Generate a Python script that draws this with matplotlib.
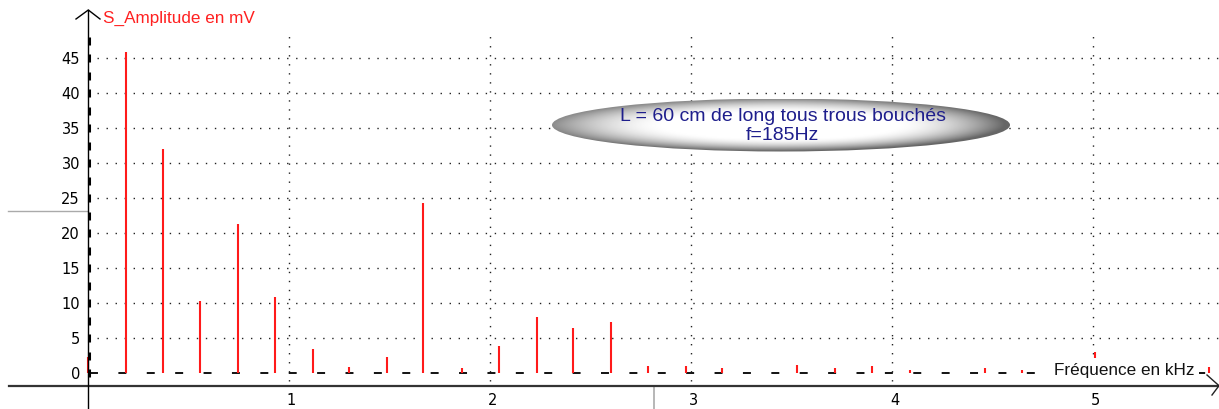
import numpy as np
import matplotlib
matplotlib.use('Agg')
import matplotlib.pyplot as plt
from matplotlib.patches import Ellipse

# Spectre : fréquences (kHz) et amplitudes (mV)
freqs = [0.0, 0.185, 0.372, 0.555, 0.745, 0.926, 1.115, 1.297, 1.487, 1.666,
         1.860, 2.041, 2.231, 2.412, 2.601, 2.782, 2.973, 3.154, 3.525, 3.715,
         3.898, 4.088, 4.462, 4.643, 5.007, 5.576]
amps = [2.4, 45.9, 32.0, 10.3, 21.4, 10.9, 3.5, 0.9, 2.3, 24.4,
        0.7, 3.9, 8.1, 6.5, 7.3, 1.1, 1.1, 0.7, 1.2, 0.7,
        1.0, 0.5, 0.7, 0.5, 3.0, 0.9]

y_ticks = [0, 5, 10, 15, 20, 25, 30, 35, 40, 45]
x_ticks = [1, 2, 3, 4, 5]

y_label = 'S_Amplitude en mV'
x_label = 'Fréquence en kHz'
note_lines = ['L = 60 cm de long tous trous bouchés', 'f=185Hz']

# pixel layout: 201 px per kHz, 7 px per mV, origin at (88.5, 374.3)
W, H = 1219, 410
PXK, PXV = 201.0, 7.0
X0, Y0 = 88.5, 374.3


def dx(px):
    return (px - X0) / PXK


def dy(py):
    return (Y0 - py) / PXV


fig = plt.figure(figsize=(W / 100, H / 100), dpi=100)
ax = fig.add_axes([0, 0, 1, 1])
ax.set_xlim(dx(0), dx(W))
ax.set_ylim(dy(H), dy(0))
ax.axis('off')

grid_kw = dict(color='#222222', lw=1.0, ls=(0, (1, 5.5)), zorder=1)
for yt in y_ticks[1:]:
    ax.plot([dx(97), dx(W)], [yt, yt], **grid_kw)
for xt in x_ticks:
    ax.plot([xt, xt], [dy(382), dy(37)], **grid_kw)

# zero line (dashed)
ax.plot([dx(90), dx(W)], [0, 0], color='#111111', lw=1.4,
        ls=(0, (4.1, 10.5)), zorder=2)

# spectrum lines
ax.vlines(freqs, 0, amps, color='#ff1a1a', lw=1.5, zorder=3)

# axes lines
ax.plot([dx(9), dx(W)], [dy(386.7), dy(386.7)], color='#333333', lw=1.6, zorder=4)
ax.plot([dx(1207), dx(1219), dx(1212)], [dy(376), dy(386.7), dy(396)],
        color='#222222', lw=1.0, zorder=4)
ax.plot([0, 0], [dy(H), dy(11)], color='black', lw=1.0, zorder=4)
ax.plot([dx(76), dx(88.3), dx(100)], [dy(20), dy(11), dy(20)],
        color='black', lw=1.0, zorder=4)
minor = np.arange(0, 48.5, 2.5)
ax.plot(np.full(minor.shape, dx(89.5)), minor, ls='none', marker='|',
        ms=5.5, mew=2.2, color='black', zorder=4)

# stray cursor marks (gray)
ax.plot([dx(8), dx(88)], [dy(212), dy(212)], color='#aaaaaa', lw=1.0, zorder=2)
ax.plot([dx(654), dx(654)], [dy(387), dy(H)], color='#aaaaaa', lw=1.2, zorder=2)

# tick labels
for yt in y_ticks:
    ax.text(dx(80), yt, str(yt), ha='right', va='center', fontsize=10.5,
            family='DejaVu Sans', color='black')
for xt in x_ticks:
    ax.text(xt + dx(90.5), dy(400.5), str(xt), ha='center', va='center',
            fontsize=10.5, family='DejaVu Sans', color='black')

ax.text(dx(103), dy(18), y_label, color='#ff2020', fontsize=12.3,
        family='Liberation Sans', ha='left', va='center')
ax.text(dx(1124.5), dy(371), x_label, color='#111111', fontsize=12.3,
        family='Liberation Sans', ha='center', va='center', zorder=6,
        bbox=dict(facecolor='white', edgecolor='none', pad=3))

# shaded ellipse
cx, cy = dx(781), dy(126)
ew, eh = 458 / PXK, 53 / PXV
u, v = np.meshgrid(np.linspace(-1, 1, 400), np.linspace(1, -1, 120))
r = np.sqrt(u ** 2 + v ** 2)
edge = np.clip((r - 0.5) / 0.5, 0, 1)
shade = 1 - 0.45 * edge ** 1.8 - 0.2 * edge ** 1.5 * np.clip((u + 1) / 2 + 0.6 * (-v), 0, 1.2)
shade = np.clip(shade, 0.4, 1)
ell = Ellipse((cx, cy), ew, eh, facecolor='none', edgecolor='none', zorder=5)
ax.add_patch(ell)
im = ax.imshow(shade, cmap='gray', vmin=0, vmax=1, aspect='auto', zorder=5,
               extent=[cx - ew / 2, cx + ew / 2, cy - eh / 2, cy + eh / 2],
               interpolation='bilinear')
im.set_clip_path(ell)

ax.text(dx(783), dy(116.7), note_lines[0], color='#1e1e8c', fontsize=14,
        family='Liberation Sans', ha='center', va='center', zorder=6)
ax.text(dx(782.5), dy(135), note_lines[1], color='#1e1e8c', fontsize=14,
        family='Liberation Sans', ha='center', va='center', zorder=6)

fig.savefig('out.png', dpi=100)
plt.close(fig)
